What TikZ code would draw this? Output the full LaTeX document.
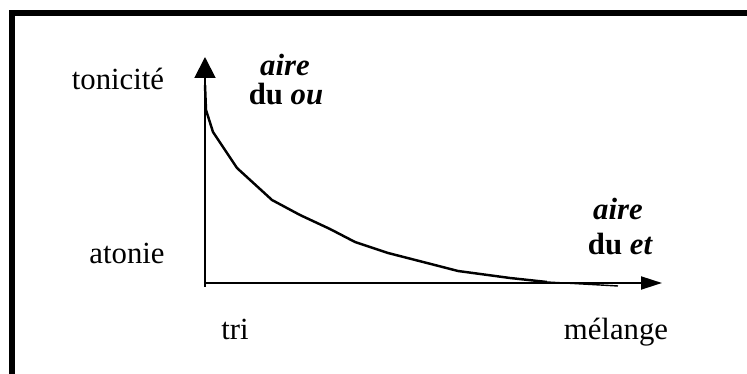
\documentclass[tikz,border=0pt]{standalone}
\usepackage{fontspec}
\setmainfont{Liberation Serif}
\usetikzlibrary{arrows.meta}
\tikzset{
	axis/.style={line width=1.1pt},
	curve/.style={line width=1.4pt, line join=round},
	lbl/.style={inner sep=0pt, anchor=base, font=\fontsize{17.5}{21}\selectfont},
	area/.style={lbl, font=\fontsize{17.5}{21}\selectfont\bfseries}
}

\begin{document}
\begin{tikzpicture}
	\clip (-4.1, -1.82) rectangle (10.84, 5.66);
	\draw[line width=3.4pt] (-3.86, -3) rectangle (12, 5.4);
	
	\coordinate (O) at (0, 0);
	\coordinate (ybase) at (0, -0.08);
	\coordinate (xbase) at (-0.02, 0);
	\coordinate (ytip) at (0, 4.52);
	\coordinate (xtip) at (9.14, 0);
	\draw[axis, -{Triangle[length=4.2mm, width=4.2mm]}] (ybase) -- (ytip);
	\draw[axis, -{Triangle[length=4.2mm, width=2.6mm]}] (xbase) -- (xtip);
	
	\draw[curve] (0, 3.96) -- (0.02, 3.46) -- (0.16, 3.02) -- (0.64, 2.3) -- (1.34, 1.66)
		-- (1.9, 1.36) -- (2.5, 1.08) -- (3.0, 0.82) -- (3.66, 0.6) -- (4.44, 0.4)
		-- (5.06, 0.24) -- (6.1, 0.1) -- (6.84, 0.02) coordinate (tailstart);
	\draw[line width=0.8pt] (tailstart) -- (8.26, -0.06);
	
	\node[lbl] (tonicite) at (-1.74, 3.86) {tonicité};
	\node[lbl] (atonie) at (-1.56, 0.38) {atonie};
	\node[lbl] (tri) at (0.6, -1.14) {tri};
	\node[lbl] (melange) at (8.22, -1.14) {mélange};
	
	\node[area] (aireou) at (1.6, 4.14) {\itshape aire};
	\node[area] (duou) at (1.62, 3.56) {du \itshape ou};
	\node[area] (aireet) at (8.26, 1.26) {\itshape aire};
	\node[area] (duet) at (8.3, 0.56) {du \itshape et};
\end{tikzpicture}
\end{document}
